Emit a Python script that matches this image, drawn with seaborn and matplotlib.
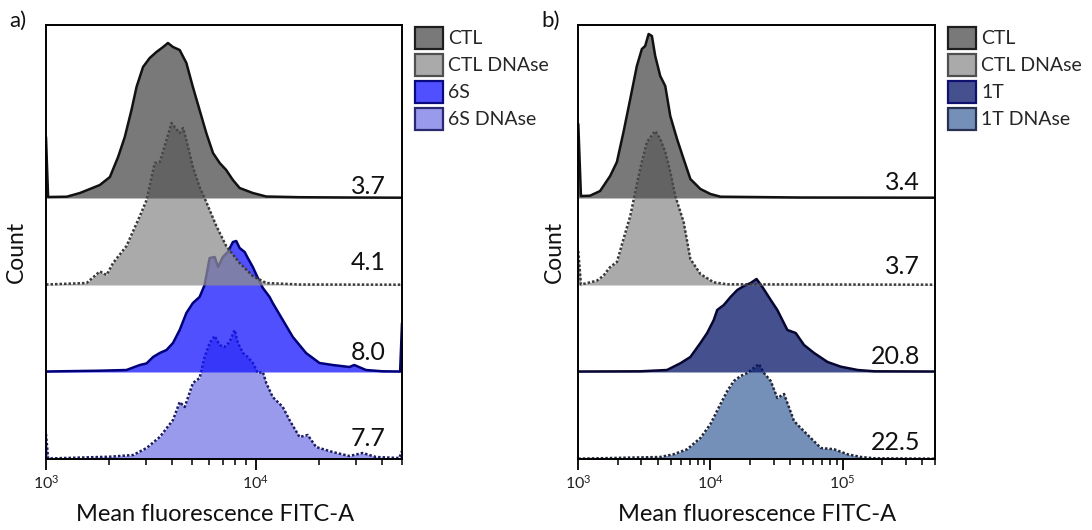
import numpy as np
import matplotlib
matplotlib.use("Agg")
import matplotlib.pyplot as plt
import matplotlib.transforms as mtrans
from matplotlib.patches import Patch
from matplotlib.ticker import NullFormatter, LogLocator
import seaborn as sns

# ---------------- data (log10 of FITC-A intensity, counts in arbitrary units) -------------
panel_a_labels = ["CTL", "CTL DNAse", "6S", "6S DNAse"]
panel_a_means = ["3.7", "4.1", "8.0", "7.7"]
panel_b_labels = ["CTL", "CTL DNAse", "1T", "1T DNAse"]
panel_b_means = ["3.4", "3.7", "20.8", "22.5"]

a_ctl_logx = [3.000, 3.010, 3.099, 3.162, 3.257, 3.305, 3.344, 3.376, 3.408, 3.432, 3.463,
              3.495, 3.527, 3.559, 3.582, 3.606, 3.638, 3.670, 3.701, 3.733, 3.765, 3.797,
              3.829, 3.860, 3.892, 3.924, 3.987, 4.051, 4.210, 4.448, 4.699]
a_ctl_count = [61, 1, 1.3, 5, 13, 21, 41, 61, 88, 111, 131,
               140, 146, 151, 155, 151, 148, 135, 111, 88, 65, 45,
               35, 28, 18, 10, 5, 1.5, 0.8, 0.5, 0.3]

a_ctld_logx = [3.000, 3.194, 3.257, 3.289, 3.320, 3.384, 3.448, 3.480, 3.519, 3.543, 3.575,
               3.599, 3.614, 3.638, 3.654, 3.670, 3.701, 3.733, 3.765, 3.813, 3.860, 3.924,
               3.987, 4.051, 4.210, 4.699]
a_ctld_count = [0.5, 2, 13.6, 10, 22, 39, 69, 85, 122, 123, 145,
                162, 158, 152, 157, 145, 118, 98, 83, 59, 39, 22,
                9, 2, 0.5, 0.3]

a_6s_logx = [3.000, 3.257, 3.384, 3.448, 3.480, 3.511, 3.543, 3.575, 3.606, 3.638,
             3.670, 3.701, 3.733, 3.757, 3.781, 3.805, 3.821, 3.844, 3.868, 3.892,
             3.908, 3.924, 3.948, 3.963, 3.987, 4.011, 4.035, 4.067, 4.082, 4.130,
             4.178, 4.241, 4.305, 4.368, 4.448, 4.471, 4.527, 4.606, 4.690, 4.699]
a_6s_count = [0.5, 1.3, 2, 7, 8.6, 15, 19, 22, 29, 42,
              59, 69, 75, 87, 114, 115, 105, 115, 120, 130,
              131, 124, 120, 114, 105, 94, 84, 75, 69, 52,
              35, 19, 9, 7, 5, 7, 2, 0.7, 0.5, 49]

a_6sd_logx = [3.000, 3.010, 3.305, 3.416, 3.480, 3.543, 3.606, 3.638, 3.662, 3.701,
              3.733, 3.757, 3.781, 3.805, 3.829, 3.852, 3.876, 3.900, 3.916, 3.940,
              3.963, 3.987, 4.011, 4.035, 4.051, 4.082, 4.130, 4.162, 4.210, 4.249,
              4.289, 4.368, 4.448, 4.511, 4.575, 4.686, 4.699]
a_6sd_count = [25, 0.5, 2.3, 4, 11, 22, 39, 57, 52, 76,
               81, 102, 116, 123, 114, 112, 117, 129, 116, 106,
               102, 96, 86, 87, 76, 62, 52, 39, 22, 24,
               12, 7, 3, 6, 2, 1, 8]

b_ctl_logx = [3.000, 3.020, 3.089, 3.165, 3.241, 3.292, 3.342, 3.393, 3.443, 3.481,
              3.506, 3.532, 3.557, 3.582, 3.620, 3.658, 3.696, 3.747, 3.797, 3.848,
              3.924, 4.000, 4.076, 4.683, 5.699]
b_ctl_count = [74, 2, 2.3, 7, 22, 36, 66, 99, 132, 149,
               152, 164, 162, 142, 122, 112, 82, 59, 39, 19,
               9, 4, 1.3, 0.5, 0.3]

b_ctld_logx = [3.000, 3.020, 3.140, 3.190, 3.241, 3.292, 3.342, 3.393, 3.431, 3.468,
               3.519, 3.582, 3.620, 3.658, 3.696, 3.734, 3.797, 3.848, 3.924, 4.025,
               4.127, 5.699]
b_ctld_count = [34, 0.5, 4.3, 9.3, 18, 23, 46, 69, 93, 116,
                143, 154, 146, 133, 113, 89, 63, 26, 11, 2.7,
                0.7, 0.3]

b_1t_logx = [3.000, 3.469, 3.671, 3.772, 3.848, 3.924, 3.975, 4.025, 4.051, 4.101,
             4.152, 4.203, 4.253, 4.304, 4.349, 4.393, 4.456, 4.506, 4.582, 4.645,
             4.708, 4.784, 4.886, 4.987, 5.114, 5.240, 5.699]
b_1t_count = [0.5, 0.7, 2, 8.7, 15, 29, 39, 52, 62, 67,
              75, 82, 86, 89, 93, 85, 72, 62, 42, 39,
              27, 19, 10, 5.3, 2, 0.7, 0.5]

b_1td_logx = [3.000, 3.620, 3.721, 3.823, 3.924, 4.000, 4.076, 4.127, 4.177, 4.228,
              4.279, 4.317, 4.367, 4.405, 4.456, 4.506, 4.557, 4.632, 4.683, 4.759,
              4.835, 4.936, 5.038, 5.139, 5.240, 5.699]
b_1td_count = [0.3, 2, 4.7, 9.7, 21, 35, 55, 68, 78, 83,
               86, 90, 95, 86, 78, 61, 65, 38, 31, 21,
               11, 9.7, 4.7, 2, 0.7, 0.3]

# ---------------- styling / layout ----------------
W, H = 1092, 530
ALPHA = 0.75
OFFSETS = [261, 174, 87, 0]          # stacked baselines (top to bottom)
YMAX = 434

a_faces = [(76, 76, 76), (142, 142, 142), (22, 22, 255), (120, 120, 232)]
a_edges = ["#111111", "#3a3a3a", "#00007a", "#1e1e66"]
a_legend_edges = ["#1e1e1e", "#505050", "#0a0a80", "#2a2a70"]
b_faces = [(76, 76, 76), (142, 142, 142), (7, 22, 104), (71, 107, 160)]
b_edges = ["#111111", "#3a3a3a", "#060630", "#22283c"]
b_legend_edges = ["#1e1e1e", "#505050", "#10106e", "#2a3050"]
styles = ["-", (0, (1, 0.8)), "-", (0, (1, 0.8))]

sns.set_theme(style="ticks")
plt.rcParams["font.family"] = ["Lato", "DejaVu Sans"]
plt.rcParams["mathtext.fontset"] = "custom"
plt.rcParams["mathtext.rm"] = "Lato"
plt.rcParams["mathtext.it"] = "Lato:italic"
plt.rcParams["mathtext.bf"] = "Lato:bold"
plt.rcParams["mathtext.default"] = "regular"

fig = plt.figure(figsize=(W / 100, H / 100), dpi=100)
fig.patch.set_facecolor("white")

ax_a = fig.add_axes([46 / W, 71 / H, 356 / W, 434 / H])
ax_b = fig.add_axes([578.3 / W, 71 / H, 356.7 / W, 434 / H])


def rgba(c):
    return (c[0] / 255, c[1] / 255, c[2] / 255, ALPHA)


def draw_panel(ax, series, labels, means, faces, edges, legend_edges, xmax,
               mean_x, mean_y, legend_x, tag, tag_x, count_x, xlabel_x):
    ax.set_xscale("log")
    ax.set_xlim(1e3, xmax)
    ax.set_ylim(0, YMAX)
    # draw bottom histogram first, top one last
    for k in reversed(range(len(series))):
        logx, cnt = series[k]
        x = 10 ** np.asarray(logx, dtype=float)
        y = np.asarray(cnt, dtype=float) + OFFSETS[k]
        z = 2 + (3 - k) * 0.5
        ax.fill_between(x, OFFSETS[k], y, color=rgba(faces[k]), lw=0, zorder=z)
        sns.lineplot(x=x, y=y, ax=ax, color=edges[k], linestyle=styles[k],
                     lw=1.8, estimator=None, sort=False, zorder=z + 0.1,
                     legend=False)
    trans = mtrans.blended_transform_factory(ax.transAxes, ax.transData)
    for m, yy in zip(means, mean_y):
        ax.text(mean_x, yy, m, transform=trans, ha="right", va="center",
                fontsize=18, color="#111111", zorder=10)
    for s in ax.spines.values():
        s.set_color("black")
        s.set_linewidth(1.4)
        s.set_zorder(20)
    ax.set_yticks([])
    ax.xaxis.set_major_locator(LogLocator(base=10, numticks=10))
    ax.xaxis.set_minor_locator(LogLocator(base=10, subs=np.arange(2, 10), numticks=20))
    ax.xaxis.set_minor_formatter(NullFormatter())
    ax.tick_params(axis="x", which="major", length=8, width=1.3, direction="out",
                   labelsize=11.5, color="black", labelcolor="#222222", pad=3)
    ax.tick_params(axis="x", which="minor", length=4, width=1.1, direction="out",
                   color="black")
    ax.set_xlabel("Mean fluorescence FITC-A", fontsize=17, color="#111111")
    ax.xaxis.set_label_coords(xlabel_x, -0.104)
    ax.set_ylabel("Count", fontsize=16.5, color="#111111")
    ax.yaxis.set_label_coords(count_x, 0.477)
    handles = [Patch(facecolor=rgba(faces[k]), edgecolor=legend_edges[k], linewidth=1.6,
                     label=labels[k]) for k in range(len(labels))]
    ax.legend(handles=handles, loc="upper left",
              bbox_to_anchor=(legend_x / W, 1 - 26.7 / H), bbox_transform=fig.transFigure,
              frameon=False, borderpad=0, borderaxespad=0, handlelength=1.45,
              handleheight=1.38, handletextpad=0.25, labelspacing=0.25, fontsize=14)
    fig.text(tag_x / W, 1 - 21 / H, tag, ha="center", va="center", fontsize=16,
             color="#111111")


draw_panel(ax_a,
           [(a_ctl_logx, a_ctl_count), (a_ctld_logx, a_ctld_count),
            (a_6s_logx, a_6s_count), (a_6sd_logx, a_6sd_count)],
           panel_a_labels, panel_a_means, a_faces, a_edges, a_legend_edges,
           5e4, 0.955, [273, 196, 107, 20.5], 415, "a)", 18, -0.053, 0.476)

draw_panel(ax_b,
           [(b_ctl_logx, b_ctl_count), (b_ctld_logx, b_ctld_count),
            (b_1t_logx, b_1t_count), (b_1td_logx, b_1td_count)],
           panel_b_labels, panel_b_means, b_faces, b_edges, b_legend_edges,
           5e5, 0.958, [276, 192, 102, 16], 948, "b)", 551, -0.037, 0.5)

fig.savefig("out.png", dpi=100, facecolor="white")
